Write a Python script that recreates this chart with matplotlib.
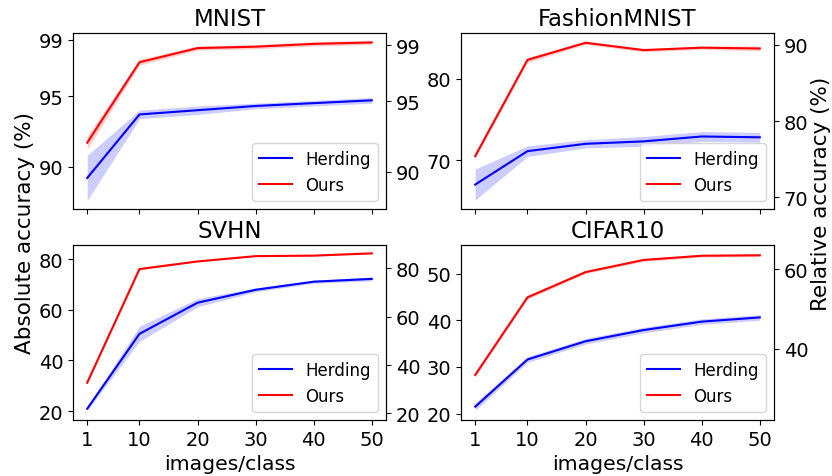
import numpy as np
import matplotlib
matplotlib.use("Agg")
import matplotlib.pyplot as plt

x = [1, 10, 20, 30, 40, 50]
xticks = [1, 10, 20, 30, 40, 50]

titles = ["MNIST", "FashionMNIST", "SVHN", "CIFAR10"]
full_acc = [99.6, 93.5, 95.4, 84.8]

herd_mean = [
    [89.2, 93.7, 94.0, 94.3, 94.5, 94.7],
    [67.0, 71.1, 72.0, 72.3, 72.9, 72.8],
    [20.9, 50.5, 62.8, 67.9, 71.1, 72.2],
    [21.5, 31.6, 35.5, 37.9, 39.7, 40.6],
]
herd_std = [
    [1.6, 0.3, 0.3, 0.2, 0.2, 0.2],
    [1.9, 0.65, 0.5, 0.6, 0.6, 0.6],
    [0.6, 3.0, 1.6, 0.8, 0.6, 0.8],
    [0.8, 0.6, 0.6, 0.6, 0.6, 0.6],
]
ours_mean = [
    [91.7, 97.4, 98.4, 98.5, 98.7, 98.8],
    [70.5, 82.3, 84.4, 83.5, 83.8, 83.7],
    [31.2, 76.1, 79.1, 81.2, 81.4, 82.3],
    [28.3, 44.9, 50.3, 52.9, 53.8, 53.9],
]
ours_std = [
    [0.45, 0.2, 0.15, 0.15, 0.15, 0.15],
    [0.3, 0.3, 0.2, 0.2, 0.2, 0.3],
    [0.4, 0.3, 0.2, 0.2, 0.2, 0.2],
    [0.4, 0.4, 0.3, 0.3, 0.3, 0.3],
]

left_ylim = [(87.0, 99.47), (64.0, 85.6), (16.45, 85.6), (18.65, 56.1)]
left_ticks = [[90, 95, 99], [70, 80], [20, 40, 60, 80], [20, 30, 40, 50]]
right_ticks = [[90, 95, 99], [70, 80, 90], [20, 40, 60, 80], [40, 60]]

fig = plt.figure(figsize=(8.32, 4.77), dpi=100)
W, H = 832, 477
boxes = [
    (73, 34, 386, 210),
    (461, 34, 774, 210),
    (73, 246, 386, 421),
    (461, 246, 774, 421),
]

for i in range(4):
    l, t, r, b = boxes[i]
    ax = fig.add_axes([l / W, 1 - b / H, (r - l) / W, (b - t) / H])
    hm = np.array(herd_mean[i]); hs = np.array(herd_std[i])
    om = np.array(ours_mean[i]); os_ = np.array(ours_std[i])
    ax.plot(x, hm, color="blue", lw=1.5, label="Herding")
    ax.fill_between(x, hm - hs, hm + hs, color="blue", alpha=0.2, lw=0)
    ax.plot(x, om, color="red", lw=1.5, label="Ours")
    ax.fill_between(x, om - os_, om + os_, color="red", alpha=0.2, lw=0)
    ax.set_xticks(xticks)
    ax.set_xlim(-1.45, 52.45)
    ax.set_ylim(*left_ylim[i])
    ax.set_yticks(left_ticks[i])
    ax.tick_params(labelsize=14)
    ax.set_title(titles[i], fontsize=16.5)
    if i < 2:
        ax.set_xticklabels([])
    else:
        ax.set_xlabel("images/class", fontsize=14.7)
    ax.legend(loc="lower right", fontsize=12)
    ax2 = ax.twinx()
    k = 100.0 / full_acc[i]
    lo, hi = left_ylim[i]
    ax2.set_ylim(lo * k, hi * k)
    ax2.set_yticks(right_ticks[i])
    ax2.tick_params(labelsize=14)

fig.text(25 / W, 1 - 233 / H, "Absolute accuracy (%)", rotation=90,
         fontsize=15.5, ha="center", va="center")
fig.text(821 / W, 1 - 194 / H, "Relative accuracy (%)", rotation=90,
         fontsize=15.5, ha="center", va="center")

fig.savefig("out.png", dpi=100)
